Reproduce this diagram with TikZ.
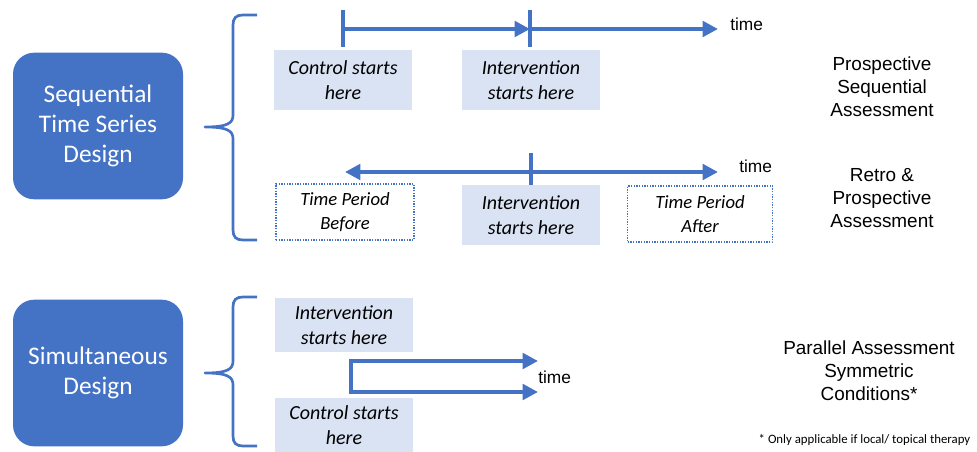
\documentclass[tikz,border=0pt]{standalone}
\usepackage{fontspec}
\setmainfont{Carlito}
\newfontfamily\arialfont{Liberation Sans}
\usetikzlibrary{arrows.meta}
\definecolor{mainblue}{HTML}{4472C4}
\definecolor{paleblue}{HTML}{DAE3F3}

\begin{document}
\begin{tikzpicture}[x=0.75pt, y=-0.75pt,
    design/.style={rounded corners=16pt, fill=mainblue, text=white, align=center,
        minimum width=127.5pt, minimum height=110pt, font=\fontsize{19}{22.5}\selectfont},
    startbox/.style={fill=paleblue, align=center, minimum width=103.5pt, minimum height=45pt,
        font=\fontsize{15}{18.75}\selectfont\itshape},
    periodbox/.style={draw=mainblue, densely dotted, line width=1pt, align=center,
        minimum width=103.5pt, minimum height=42pt, font=\fontsize{14}{18}\selectfont\itshape},
    assess/.style={align=center, font=\arialfont\fontsize{14.2}{17.25}\selectfont},
    timelbl/.style={anchor=west, inner sep=0pt, font=\arialfont\fontsize{13}{15}\selectfont},
    axis/.style={draw=mainblue, line width=3pt},
    tip/.style={-{Triangle[length=11.5pt, width=11.5pt]}},
    brace/.style={draw=mainblue, line width=2pt, line join=round}]
    \useasboundingbox (0,0) rectangle (977,452);

    % 左侧设计方框
    \node[design] (seq) at (98,126) {Sequential\\Time Series\\Design};
    \node[design] (sim) at (98,373) {Simultaneous\\Design};

    % 大括号
    \foreach \ya/\ym/\yb in {15/127/240, 297/373/446}
        \draw[brace] (257,\ya) -- (243,\ya) .. controls (236,\ya) and (233,\ya+3) .. (233,\ya+10)
            -- (233,\ym-12) .. controls (233,\ym-4) and (228,\ym) .. (205,\ym)
            .. controls (228,\ym) and (233,\ym+4) .. (233,\ym+12)
            -- (233,\yb-10) .. controls (233,\yb-3) and (236,\yb) .. (243,\yb) -- (257,\yb);

    % 第一条时间轴
    \coordinate (c1) at (343,29);
    \coordinate (i1) at (530,29);
    \coordinate (e1) at (718,29);
    \foreach \p in {c1,i1}
        \draw[axis] ([yshift=14pt]\p) -- ([yshift=-13.5pt]\p);
    \draw[axis, tip] (c1) -- (i1);
    \draw[axis, tip] (i1) -- (e1);
    \node[timelbl] (time1) at (730,24) {time};
    \node[startbox] (ctrl1) at (343,80) {Control starts\\here};
    \node[startbox] (int1) at (531,80) {Intervention\\starts here};

    % 第二条时间轴
    \coordinate (b2) at (345,172);
    \coordinate (i2) at (531,172);
    \coordinate (e2) at (718,172);
    \draw[axis] ([yshift=14pt]i2) -- ([yshift=-10pt]i2);
    \draw[axis, tip] (i2) -- (b2);
    \draw[axis, tip] (i2) -- (e2);
    \node[timelbl] (time2) at (739,166) {time};
    \node[periodbox] (before) at (345,212) {Time Period\\Before};
    \node[startbox] (int2) at (531,215) {Intervention\\starts here};
    \node[periodbox, minimum width=108.75pt] (after) at (700,214) {Time Period\\After};

    % 并行设计
    \node[startbox, minimum height=41pt] (int3) at (344,325) {Intervention\\starts here};
    \node[startbox, minimum height=41pt] (ctrl3) at (344,425) {Control starts\\here};
    \coordinate (u3) at (538,361);
    \coordinate (d3) at (538,392);
    \draw[axis, {Triangle[length=11.5pt, width=11.5pt]}-{Triangle[length=11.5pt, width=11.5pt]}]
        (u3) -- (351,361) -- (351,392) -- (d3);
    \node[timelbl] (time3) at (538,377) {time};

    % 右侧说明
    \node[assess] (pros) at (882,87) {Prospective\\Sequential\\Assessment};
    \node[assess] (retro) at (882,198) {Retro \&\\Prospective\\Assessment};
    \node[assess] (para) at (869,371) {Parallel Assessment\\Symmetric\\Conditions*};
    \node[font=\fontsize{9.6}{11}\selectfont, anchor=east] (note) at (975,440)
        {* Only applicable if local/ topical therapy};
\end{tikzpicture}
\end{document}
